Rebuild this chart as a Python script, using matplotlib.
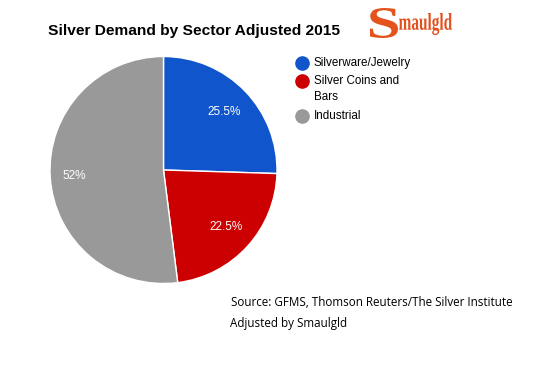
import matplotlib
matplotlib.use("Agg")
import matplotlib.pyplot as plt
from matplotlib.lines import Line2D
from matplotlib.textpath import TextPath
from matplotlib.patches import PathPatch
from matplotlib.font_manager import FontProperties
from matplotlib.transforms import Affine2D, IdentityTransform
import numpy as np

categories = ["Silverware/Jewelry", "Silver Coins and\nBars", "Industrial"]
values = [25.5, 22.5, 52]
labels = ["25.5%", "22.5%", "52%"]
colors = ["#1155cc", "#cc0000", "#999999"]

W, H = 537, 375
fig = plt.figure(figsize=(W/100, H/100), dpi=100)
fig.patch.set_facecolor("white")

# pie axes: center (163.5,170), radius 113.5
r = 113.5
cx, cy = 163.5, 170
ax = fig.add_axes([(cx - r)/W, 1 - (cy + r)/H, 2*r/W, 2*r/H])
wedges, texts = ax.pie(values, colors=colors, startangle=90, counterclock=False,
                       wedgeprops=dict(edgecolor="white", linewidth=1))
ax.set_xlim(-1, 1); ax.set_ylim(-1, 1)
ax.set_aspect("equal")
ax.axis("off")

cum = 0
radii = [0.74, 0.745, 0.79]
for v, lab, rr in zip(values, labels, radii):
    mid = 90 - (cum + v/2) * 3.6
    cum += v
    ang = np.deg2rad(mid)
    ax.text(rr*np.cos(ang), rr*np.sin(ang), lab, color="white",
            ha="center", va="center", fontsize=8.5, family="Liberation Sans")

def fx(x): return x / W
def fy(y): return 1 - y / H

fig.text(fx(48), fy(31), "Silver Demand by Sector Adjusted 2015", fontsize=11.15,
         fontweight="bold", family="Liberation Sans", va="center", ha="left")

# logo drawn as scaled text paths (pixel coordinates)
def logo_part(s, x0, y_top, y_bot, w, color, fp):
    tp = TextPath((0, 0), s, size=10, prop=fp)
    ext = tp.get_extents()
    sx = w / ext.width
    sy = (y_bot - y_top) / ext.height
    tr = Affine2D().translate(-ext.x0, -ext.y0).scale(sx, sy).translate(x0, H - y_bot)
    fig.add_artist(PathPatch(tr.transform_path(tp), facecolor=color, edgecolor="none",
                             transform=IdentityTransform()))

fp = FontProperties(family="Liberation Serif", weight="bold")
logo_part("S", 370, 8, 38, 28, "#e4531c", fp)
logo_part("maulgld", 399, 13, 35, 53, "#e2501e", fp)

# legend
leg_y = [63, 81, 116]
for y, cat, c in zip(leg_y, categories, colors):
    fig.add_artist(Line2D([fx(302)], [fy(y)], marker="o", markersize=9.5,
                          markerfacecolor=c, markeredgecolor=c, transform=fig.transFigure))
    fig.text(fx(314), fy(y - 6), cat, fontsize=8.4, family="Liberation Sans",
             va="top", ha="left", linespacing=1.5)

fig.text(fx(231), fy(302), "Source: GFMS, Thomson Reuters/The Silver Institute",
         fontsize=8.4, family="Open Sans", va="center", ha="left")
fig.text(fx(230), fy(323), "Adjusted by Smaulgld",
         fontsize=8.4, family="Open Sans", va="center", ha="left")

fig.savefig("out.png", dpi=100, facecolor="white")
